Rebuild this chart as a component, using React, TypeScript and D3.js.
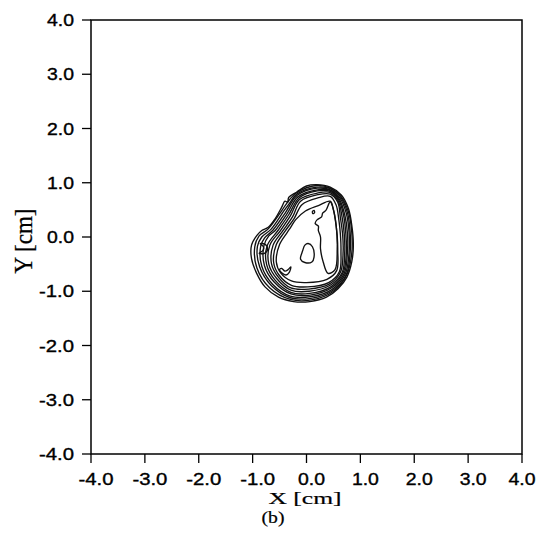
import * as d3 from 'd3';

// axis ticks
const X_TICKS = [-4, -3, -2, -1, 0, 1, 2, 3, 4];
const X_TICK_LABELS = ['-4.0', '-3.0', '-2.0', '-1.0', '0.0', '1.0', '2.0', '3.0', '4.0'];
const Y_TICKS = [4, 3, 2, 1, 0, -1, -2, -3, -4];
const Y_TICK_LABELS = ['4.0', '3.0', '2.0', '1.0', '0.0', '-1.0', '-2.0', '-3.0', '-4.0'];

// contour rings [x cm, y cm], outermost first
const RING_0 = [[0.19, 0.965], [0.44, 0.92], [0.65, 0.77], [0.78, 0.52], [0.84, 0.22], [0.87, -0.15], [0.84, -0.46], [0.75, -0.74], [0.59, -0.95], [0.37, -1.11], [0.06, -1.19], [-0.24, -1.19], [-0.52, -1.11], [-0.77, -0.92], [-0.92, -0.68], [-1.02, -0.40], [-1.02, -0.15], [-0.92, 0.03], [-0.83, 0.12], [-0.71, 0.18], [-0.58, 0.34], [-0.46, 0.55], [-0.40, 0.66], [-0.35, 0.64], [-0.33, 0.73], [-0.18, 0.83], [0.0, 0.94]];
const RING_1 = [[0.19, 0.95], [0.44, 0.90], [0.64, 0.75], [0.78, 0.46], [0.84, 0.09], [0.84, -0.30], [0.75, -0.69], [0.49, -1.01], [0.09, -1.16], [-0.30, -1.15], [-0.68, -0.94], [-0.92, -0.57], [-0.96, -0.18], [-0.88, 0.02], [-0.71, 0.15], [-0.45, 0.50], [-0.36, 0.63], [-0.19, 0.81]];
const RING_2 = [[0.19, 0.92], [0.44, 0.89], [0.63, 0.74], [0.76, 0.45], [0.81, 0.09], [0.81, -0.29], [0.74, -0.69], [0.48, -0.99], [0.08, -1.13], [-0.30, -1.12], [-0.65, -0.90], [-0.87, -0.55], [-0.91, -0.17], [-0.83, 0.00], [-0.66, 0.14], [-0.42, 0.48], [-0.33, 0.60], [-0.18, 0.79]];
const RING_3 = [[0.20, 0.90], [0.44, 0.87], [0.62, 0.72], [0.74, 0.43], [0.79, 0.08], [0.79, -0.29], [0.72, -0.68], [0.47, -0.97], [0.08, -1.10], [-0.30, -1.09], [-0.63, -0.87], [-0.83, -0.54], [-0.85, -0.17], [-0.78, -0.02], [-0.62, 0.13], [-0.39, 0.45], [-0.17, 0.77]];
const RING_4 = [[0.20, 0.87], [0.44, 0.86], [0.61, 0.70], [0.71, 0.41], [0.76, 0.07], [0.76, -0.28], [0.70, -0.67], [0.46, -0.94], [0.07, -1.07], [-0.29, -1.05], [-0.60, -0.83], [-0.78, -0.53], [-0.79, -0.16], [-0.70, 0.02], [-0.58, 0.12], [-0.36, 0.43], [-0.16, 0.74]];
const RING_5 = [[0.20, 0.85], [0.44, 0.84], [0.60, 0.68], [0.69, 0.39], [0.73, 0.06], [0.74, -0.28], [0.68, -0.66], [0.45, -0.92], [0.06, -1.04], [-0.29, -1.02], [-0.58, -0.80], [-0.74, -0.51], [-0.73, -0.16], [-0.53, 0.12], [-0.33, 0.41], [-0.14, 0.72]];
const RING_6 = [[0.20, 0.81], [0.44, 0.82], [0.59, 0.66], [0.66, 0.37], [0.70, 0.06], [0.71, -0.27], [0.66, -0.66], [0.44, -0.89], [0.05, -1.00], [-0.29, -0.98], [-0.55, -0.77], [-0.70, -0.50], [-0.68, -0.15], [-0.49, 0.11], [-0.30, 0.39], [-0.13, 0.69]];
const RING_7 = [[0.21, 0.78], [0.44, 0.79], [0.58, 0.64], [0.63, 0.35], [0.67, 0.05], [0.68, -0.27], [0.63, -0.65], [0.42, -0.87], [0.04, -0.96], [-0.29, -0.94], [-0.53, -0.73], [-0.65, -0.49], [-0.62, -0.15], [-0.45, 0.10], [-0.26, 0.37], [-0.11, 0.66]];
const RING_8 = [[0.21, 0.72], [0.44, 0.75], [0.55, 0.59], [0.60, 0.32], [0.63, 0.04], [0.64, -0.26], [0.61, -0.64], [0.41, -0.84], [0.02, -0.92], [-0.28, -0.89], [-0.51, -0.70], [-0.61, -0.47], [-0.56, -0.14], [-0.41, 0.09], [-0.23, 0.34], [-0.08, 0.60]];
const RING_9 = [[0.22, 0.58], [0.44, 0.66], [0.50, 0.50], [0.54, 0.28], [0.57, 0.02], [0.58, -0.25], [0.56, -0.62], [0.38, -0.78], [0.00, -0.84], [-0.28, -0.81], [-0.48, -0.66], [-0.56, -0.46], [-0.50, -0.14], [-0.36, 0.08], [-0.30, 0.17], [-0.20, 0.32], [-0.02, 0.48]];

// inner features of the plateau
const STRIP = [[0.44, 0.65], [0.36, 0.49], [0.30, 0.44], [0.28, 0.37], [0.20, 0.32], [0.16, 0.25], [0.22, 0.20], [0.22, 0.12], [0.26, 0.00], [0.26, -0.22], [0.31, -0.46], [0.40, -0.67], [0.53, -0.60], [0.57, -0.22], [0.55, 0.22], [0.49, 0.54]];
const PEAK = [[0.03, -0.12], [0.11, -0.18], [0.14, -0.37], [0.10, -0.46], [-0.03, -0.47], [-0.11, -0.41], [-0.07, -0.25], [-0.03, -0.15]];
const V_LOOP = [[-0.50, -0.60], [-0.46, -0.66], [-0.38, -0.70], [-0.32, -0.65], [-0.29, -0.55], [-0.34, -0.60], [-0.40, -0.63], [-0.46, -0.58]];
const DOT = [[0.11, 0.47], [0.14, 0.49], [0.15, 0.45], [0.12, 0.43]];
const POCKET = [[-0.86, -0.12], [-0.76, -0.14], [-0.72, -0.22], [-0.78, -0.30], [-0.88, -0.30], [-0.80, -0.24], [-0.80, -0.18]];

const RINGS = [RING_0, RING_1, RING_2, RING_3, RING_4, RING_5, RING_6, RING_7, RING_8, RING_9];
const LOOPS = [STRIP, PEAK, V_LOOP, DOT, POCKET];

export default function App() {
  const W = 545;
  const H = 554;
  const left = 91, right = 522, top = 20, bottom = 454;

  const x = d3.scaleLinear().domain([-4, 4]).range([left, right]);
  const y = d3.scaleLinear().domain([-4, 4]).range([bottom, top]);

  const line = d3.line<number[]>()
    .x(d => x(d[0]))
    .y(d => y(d[1]))
    .curve(d3.curveCatmullRomClosed.alpha(0.5));

  const tickFont = '"Liberation Sans", Arial, sans-serif';
  const serif = '"Liberation Serif", "Times New Roman", serif';

  return (
    <svg width={W} height={H} style={{ position: 'absolute', left: 0, top: 0, background: '#fff' }}>
      {/* contours */}
      <g fill="none" stroke="#111" strokeWidth={1.35} strokeLinejoin="round">
        {RINGS.map((r, i) => <path key={'r' + i} d={line(r) || ''} />)}
        {LOOPS.map((r, i) => <path key={'l' + i} d={line(r) || ''} />)}
      </g>

      {/* frame */}
      <rect x={left} y={top} width={right - left} height={bottom - top} fill="none" stroke="#000" strokeWidth={1.5} />

      {/* x axis */}
      {X_TICKS.map((v, i) => (
        <g key={'x' + v}>
          <line x1={x(v)} x2={x(v)} y1={bottom} y2={bottom + 9} stroke="#000" strokeWidth={1.3} />
          <text
            x={x(v) + (i === X_TICKS.length - 1 ? 0 : 5)}
            y={485}
            textAnchor="middle"
            fontFamily={tickFont}
            fontSize={16}
            stroke="#000"
            strokeWidth={0.35}
            textLength={X_TICK_LABELS[i].length > 3 ? 35 : 27}
            lengthAdjust="spacingAndGlyphs"
          >
            {X_TICK_LABELS[i]}
          </text>
        </g>
      ))}

      {/* y axis */}
      {Y_TICKS.map((v, i) => (
        <g key={'y' + v}>
          <line x1={left - 9} x2={left} y1={y(v)} y2={y(v)} stroke="#000" strokeWidth={1.3} />
          <text
            x={74}
            y={y(v) + 6}
            textAnchor="end"
            fontFamily={tickFont}
            fontSize={16.5}
            stroke="#000"
            strokeWidth={0.35}
            textLength={Y_TICK_LABELS[i].length > 3 ? 35 : 27}
            lengthAdjust="spacingAndGlyphs"
          >
            {Y_TICK_LABELS[i]}
          </text>
        </g>
      ))}

      {/* titles */}
      <text x={305} y={504} textAnchor="middle" fontFamily={serif} fontSize={16.5} stroke="#000" strokeWidth={0.2} textLength={73} lengthAdjust="spacingAndGlyphs">
        X [cm]
      </text>
      <text x={273} y={523} textAnchor="middle" fontFamily={serif} fontSize={16.5} stroke="#000" strokeWidth={0.2} textLength={23} lengthAdjust="spacingAndGlyphs">
        (b)
      </text>
      <text
        transform="translate(32,241) rotate(-90) scale(1,1.35)"
        textAnchor="middle"
        fontFamily={serif}
        fontSize={18}
        stroke="#000"
        strokeWidth={0.2}
        textLength={65}
        lengthAdjust="spacingAndGlyphs"
      >
        Y [cm]
      </text>
    </svg>
  );
}
